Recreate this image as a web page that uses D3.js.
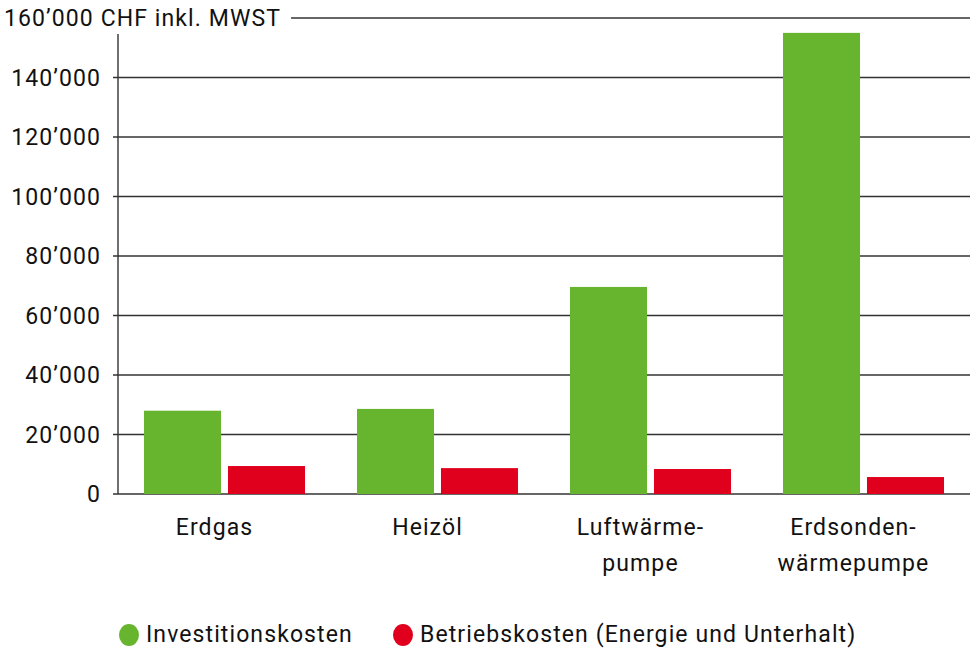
<!DOCTYPE html>
<html><head><meta charset="utf-8">
<script src="https://cdn.jsdelivr.net/npm/d3@7"></script>
<style>body{margin:0;background:#fff}svg{display:block}text{font-family:Roboto,"Open Sans",sans-serif;fill:#111;letter-spacing:1.1px}</style>
</head><body><svg id="c" width="978" height="649"></svg>
<script>
const categories = [["Erdgas"], ["Heizöl"], ["Luftwärme-", "pumpe"], ["Erdsonden-", "wärmepumpe"]];
const seriesNames = ["Investitionskosten", "Betriebskosten (Energie und Unterhalt)"];
const invest = [28000, 28600, 69600, 155000];
const betrieb = [9400, 8700, 8400, 5700];
const yTicks = [0, 20000, 40000, 60000, 80000, 100000, 120000, 140000, 160000];
const yUnit = "CHF inkl. MWST";
const colors = ["#67b42f", "#e0001d"];

const svg = d3.select("#c");
const FS = 23;
const axisX = 118, right = 970;
const y = d3.scaleLinear().domain([0, 160000]).range([494, 18]);
const x = d3.scaleBand().domain(d3.range(categories.length)).range([axisX, right]).paddingInner(0.244).paddingOuter(0.122);
const xs = d3.scaleBand().domain([0, 1]).range([0, x.bandwidth()]).paddingInner(0.083);
const fmt = v => d3.format(",")(v).replace(/,/g, "\u2019");

// gridlines & labels
const g = svg.append("g");
yTicks.forEach(t => {
  const yy = y(t);
  if (t === yTicks[yTicks.length - 1]) {
    const lbl = g.append("text").attr("x", 4).attr("y", yy + 8).attr("font-size", FS).text(fmt(t) + " " + yUnit);
    const w = lbl.node().getComputedTextLength();
    g.append("line").attr("x1", 4 + w + 10).attr("x2", right).attr("y1", yy).attr("y2", yy).attr("stroke", "#333").attr("stroke-width", 1.4);
  } else {
    g.append("line").attr("x1", axisX - 5).attr("x2", right).attr("y1", yy).attr("y2", yy).attr("stroke", "#333").attr("stroke-width", 1.4);
    g.append("text").attr("x", 101).attr("y", yy + 8).attr("text-anchor", "end").attr("font-size", FS).text(fmt(t));
  }
});
g.append("line").attr("x1", axisX).attr("x2", axisX).attr("y1", 34).attr("y2", y(0)).attr("stroke", "#333").attr("stroke-width", 1.4);

// bars
const data = categories.map((c, i) => [invest[i], betrieb[i]]);
const groups = svg.append("g").selectAll("g").data(data).join("g").attr("transform", (d, i) => `translate(${x(i)},0)`);
groups.selectAll("rect").data(d => d).join("rect")
  .attr("x", (d, j) => xs(j)).attr("width", xs.bandwidth())
  .attr("y", d => y(d)).attr("height", d => y(0) - y(d))
  .attr("fill", (d, j) => colors[j]);

// category labels
categories.forEach((c, i) => {
  const cx = x(i) + x.bandwidth() / 2 - 10;
  const t = svg.append("text").attr("text-anchor", "middle").attr("font-size", FS).attr("x", cx).attr("y", 535);
  c.forEach((line, k) => t.append("tspan").attr("x", cx).attr("dy", k ? 36 : 0).text(line));
});

// legend
const leg = [[129, 0], [403, 1]];
leg.forEach(([lx, j]) => {
  svg.append("ellipse").attr("cx", lx).attr("cy", 635).attr("rx", 10).attr("ry", 11).attr("fill", colors[j]);
  svg.append("text").attr("x", lx + 17).attr("y", 642).attr("font-size", FS).text(seriesNames[j]);
});
</script></body></html>
